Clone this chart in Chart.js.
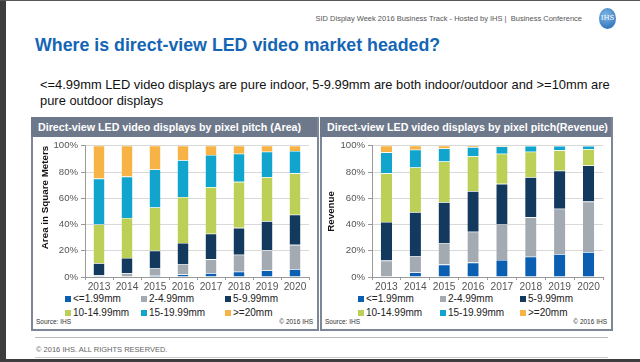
<!DOCTYPE html>
<html>
<head>
<meta charset="utf-8">
<script src="https://cdn.jsdelivr.net/npm/chart.js@4.4.0/dist/chart.umd.min.js"></script>
<style>
  html, body { margin: 0; padding: 0; }
  body { width: 640px; height: 362px; position: relative; overflow: hidden; background: #fff; font-family: "Liberation Sans", Arial, sans-serif; }
  .abs { position: absolute; }
  #frame-left { left: 0; top: 0; width: 6px; height: 362px; background: #3d3d3d; }
  #frame-top { left: 0; top: 0; width: 640px; height: 1px; background: #555; }
  #frame-bottom { left: 0; top: 359px; width: 640px; height: 3px; background: #3d3d3d; }
  #topline { left: 300px; top: 14px; width: 282px; text-align: right; font-size: 7.5px; color: #555; }
  #logo { left: 599px; top: 8px; width: 17px; height: 21px; border-radius: 50%; background: radial-gradient(circle at 40% 35%, #7fb7e6, #1b64b0); color: #fff; font-size: 7px; text-align: center; line-height: 21px; font-family: "DejaVu Serif", serif; }
  #title { left: 35px; top: 35px; font-size: 17.8px; font-weight: bold; color: #1565b5; }
  #subtitle { left: 40px; top: 77px; width: 590px; font-size: 12.9px; line-height: 16px; color: #111; }
  .panel { top: 117px; height: 212px; border: 2px solid #7d8798; border-top: none; background: #fff; }
  .panel .head { position: absolute; left: -2px; top: 0; height: 20px; background: #6e788b; color: #fff; font-weight: bold; font-size: 10.7px; line-height: 20px; padding-left: 7px; white-space: nowrap; overflow: hidden; }
  .panel canvas { position: absolute; left: 0; top: 20px; }
  .legend { position: absolute; left: 0; top: 176px; font-size: 10px; color: #222; }
  .legend .item { position: absolute; white-space: nowrap; }
  .legend .sw { display: inline-block; width: 6px; height: 6px; margin-right: 2px; vertical-align: 0px; }
  .src { position: absolute; left: 3px; top: 201px; font-size: 6.5px; color: #333; }
  .copy { position: absolute; right: 4px; top: 201px; font-size: 6.5px; color: #333; }
  #footline { left: 35px; top: 337px; width: 573px; height: 1px; background: #bbb; }
  #footline2 { left: 35px; top: 357px; width: 573px; height: 1px; background: #ccc; }
  #foot { left: 36px; top: 345px; font-size: 7.5px; color: #666; }
</style>
</head>
<body>
<div class="abs" id="frame-left"></div>
<div class="abs" id="frame-top"></div>
<div class="abs" id="frame-bottom"></div>
<div class="abs" id="topline">SID Display Week 2016 Business Track - Hosted by IHS |&nbsp; Business Conference</div>
<div class="abs" id="logo">IHS</div>
<div class="abs" id="title">Where is direct-view LED video market headed?</div>
<div class="abs" id="subtitle">&lt;=4.99mm LED video displays are pure indoor, 5-9.99mm are both indoor/outdoor and &gt;=10mm are pure outdoor displays</div>

<div class="abs panel" id="panel-area" style="left:31px; width:284px;">
  <div class="head" style="width:279px;">Direct-view LED video displays by pixel pitch (Area)</div>
  <canvas id="area-chart" width="284" height="155"></canvas>
  <div class="legend" id="area-legend"></div>
  <div class="src">Source: IHS</div>
  <div class="copy">© 2016 IHS</div>
</div>

<div class="abs panel" id="panel-rev" style="left:320px; width:289px;">
  <div class="head" style="width:284px;">Direct-view LED video displays by pixel pitch(Revenue)</div>
  <canvas id="rev-chart" width="289" height="155"></canvas>
  <div class="legend" id="rev-legend"></div>
  <div class="src">Source: IHS</div>
  <div class="copy">© 2016 IHS</div>
</div>

<div class="abs" id="footline"></div>
<div class="abs" id="foot">© 2016 IHS. ALL RIGHTS RESERVED.</div>
<div class="abs" id="footline2"></div>

<script>
const years = ['2013', '2014', '2015', '2016', '2017', '2018', '2019', '2020'];
const pitchLabels = ['<=1.99mm', '2-4.99mm', '5-9.99mm', '10-14.99mm', '15-19.99mm', '>=20mm'];
const pitchColors = ['#0b5fb3', '#a3aab2', '#13395f', '#bccf56', '#11a5cd', '#f8b346'];

// share of area, %
const areaUnder2 = [0.3, 0, 1, 2, 3, 4, 5, 6];
const area2to5 = [1.2, 3, 5.5, 8, 10.5, 13, 15.5, 18.5];
const area5to10 = [9, 11.5, 13.5, 16, 19.5, 20.5, 22, 23];
const area10to15 = [29.5, 30.5, 33, 35, 35.5, 35, 33.5, 31.5];
const area15to20 = [35, 31.5, 29, 28, 24.5, 21.5, 19.5, 17];
const areaOver20 = [25, 23.5, 18, 11, 7, 6, 4.5, 4];

// share of revenue, %
const revUnder2 = [0, 3.5, 9.5, 11, 13, 15.5, 17.5, 19];
const rev2to5 = [12.5, 12.5, 16.5, 23.5, 27, 30, 34.5, 38.5];
const rev5to10 = [29.5, 33.5, 31, 31, 31, 30.5, 29, 27.5];
const rev10to15 = [37, 34, 31, 26.5, 23, 19.5, 15.5, 12.5];
const rev15to20 = [16, 13.5, 10, 7, 5.5, 4.3, 3.3, 2.3];
const revOver20 = [5, 3, 2, 1, 0.5, 0.2, 0.2, 0.2];

const yTicks = [0, 10, 20, 30, 40, 50, 60, 70, 80, 90, 100];

function makeChart(id, series, yTitle, titleAlign, titlePad, axisWidth, padRight) {
    const ctx = document.getElementById(id).getContext('2d');
    return new Chart(ctx, {
        type: 'bar',
        data: {
            labels: years,
            datasets: series.map((data, i) => ({
                label: pitchLabels[i],
                data: data,
                backgroundColor: pitchColors[i],
                borderColor: 'rgba(255,255,255,0.5)',
                borderWidth: { top: 0.6 },
                borderSkipped: 'bottom',
                categoryPercentage: 1,
                barPercentage: 0.39
            }))
        },
        options: {
            animation: false,
            responsive: false,
            events: [],
            layout: { padding: { top: 8, right: padRight, left: 0, bottom: 0 } },
            plugins: { legend: { display: false }, tooltip: { enabled: false } },
            scales: {
                x: {
                    stacked: true,
                    afterFit: (scale) => { scale.height = 15; },
                    grid: { display: true, drawOnChartArea: false, color: '#9a9a9a', tickLength: 3, offset: true },
                    border: { color: '#9a9a9a' },
                    ticks: { color: '#555', font: { size: 10.2, family: 'Liberation Sans' }, padding: 1, maxRotation: 0, autoSkip: false }
                },
                y: {
                    stacked: true,
                    min: 0,
                    max: 100,
                    afterBuildTicks: (scale) => { scale.ticks = yTicks.map(v => ({ value: v })); },
                    afterFit: (scale) => { scale.width = axisWidth; },
                    grid: { color: '#d9d9d9', tickLength: 4, tickColor: '#9a9a9a' },
                    border: { color: '#9a9a9a' },
                    ticks: { color: '#555', font: { size: 9.6, family: 'Liberation Sans' }, padding: 3, callback: (v) => v + '%' },
                    title: { display: true, text: yTitle, align: titleAlign, color: '#111', font: { size: 9.8, weight: 'bold', family: 'Liberation Sans' }, padding: { top: titlePad, bottom: 2 } }
                }
            }
        }
    });
}

function buildLegend(id, cols) {
    const el = document.getElementById(id);
    pitchLabels.forEach((label, i) => {
        const item = document.createElement('div');
        item.className = 'item';
        item.style.left = cols[i % 3] + 'px';
        item.style.top = (i < 3 ? 0 : 14) + 'px';
        item.innerHTML = `<span class="sw" style="background:${pitchColors[i]}"></span>${label.replace('<', '&lt;').replace('>', '&gt;')}`;
        el.appendChild(item);
    });
}

makeChart('area-chart', [areaUnder2, area2to5, area5to10, area10to15, area15to20, areaOver20], 'Area in Square Meters', 'end', 6, 52, 8);
makeChart('rev-chart', [revUnder2, rev2to5, rev5to10, rev10to15, rev15to20, revOver20], 'Revenue', 'center', 3, 50, 8);

buildLegend('area-legend', [32, 108, 192]);
buildLegend('rev-legend', [36, 118, 198]);
</script>
</body>
</html>
